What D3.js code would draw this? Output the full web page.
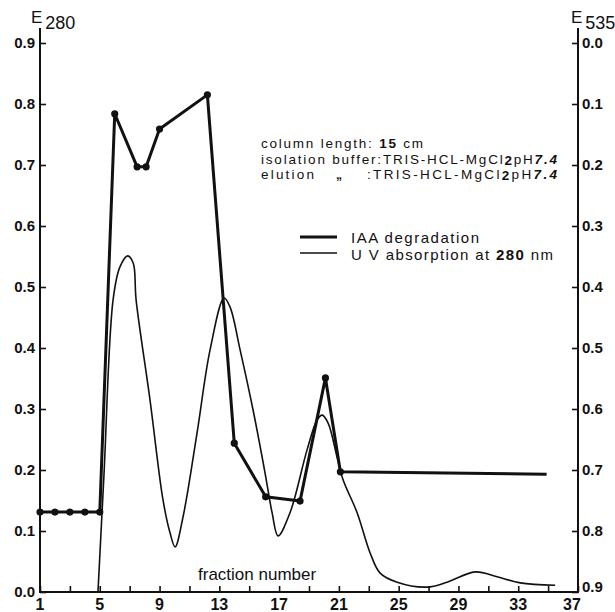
<!DOCTYPE html>
<html>
<head>
<meta charset="utf-8">
<script src="https://cdn.jsdelivr.net/npm/d3@7"></script>
<style>
  body { margin: 0; background: #fff; }
  svg { display: block; }
  text { font-family: "Liberation Sans", Arial, sans-serif; fill: #111; }
</style>
</head>
<body>
<div id="chart"></div>
<script>
// values
const fractionLabels = [1, 5, 9, 13, 17, 21, 25, 29, 33, 37];
const fractionTicks = d3.range(1, 38, 2);
const e280Ticks = [0, 0.1, 0.2, 0.3, 0.4, 0.5, 0.6, 0.7, 0.8, 0.9];
const e535Ticks = [0, 0.1, 0.2, 0.3, 0.4, 0.5, 0.6, 0.7, 0.8, 0.9];

// IAA degradation (E535, right axis)
const iaaFraction = [1, 2, 3, 4, 5, 6, 7.5, 8.1, 9, 12.2, 14, 16.1, 18.4, 20.1, 21.1, 34.9];
const iaaE535 = [0.769, 0.769, 0.769, 0.769, 0.769, 0.116, 0.203, 0.203, 0.141, 0.085, 0.656, 0.744, 0.751, 0.549, 0.703, 0.707];

// UV absorption at 280 nm (E280, left axis)
const uvFraction = [4.88, 5.28, 5.89, 6.35, 6.87, 7.24, 7.43, 8.36, 9.23, 9.7, 10.04, 10.57, 11.51, 12.38, 13.32, 13.72,
  14.39, 15.26, 16.06, 16.53, 16.93, 17.73, 18.87, 19.54, 19.88, 20.28, 20.88, 21.28, 22.22, 23.09, 23.76, 24.9,
  26.9, 28.24, 30.12, 31.59, 33.13, 35.47];
const uvE280 = [0, 0.192, 0.479, 0.533, 0.551, 0.539, 0.479, 0.315, 0.151, 0.097, 0.074, 0.123, 0.261, 0.397, 0.482, 0.467,
  0.397, 0.298, 0.195, 0.13, 0.092, 0.13, 0.233, 0.282, 0.29, 0.277, 0.221, 0.184, 0.13, 0.064, 0.031, 0.016,
  0.008, 0.016, 0.033, 0.025, 0.015, 0.011];

const width = 615, height = 612;
const svg = d3.select('#chart').append('svg')
  .attr('width', width)
  .attr('height', height);

const x = d3.scaleLinear().domain([1, 37]).range([40, 578]);
const yLeft = d3.scaleLinear().domain([0, 0.9]).range([592, 43]);
const yRight = d3.scaleLinear().domain([0, 0.9]).range([43, 592]);

const fmt = d3.format('.1f');

// axes, ticks point inwards
const xAxis = d3.axisBottom(x).tickValues(fractionTicks).tickSize(-6).tickFormat('');
const leftAxis = d3.axisLeft(yLeft).tickValues(e280Ticks).tickSize(-6).tickFormat('');
const rightAxis = d3.axisRight(yRight).tickValues(e535Ticks).tickSize(-6).tickFormat('');

function styleAxis(g) {
  g.select('.domain').remove();
  g.selectAll('.tick line').attr('stroke', '#111').attr('stroke-width', 1.6);
}

svg.append('g').attr('transform', 'translate(0,592)').call(xAxis).call(styleAxis);
svg.append('g').attr('transform', 'translate(40,0)').call(leftAxis).call(styleAxis);
svg.append('g').attr('transform', 'translate(578,0)').call(rightAxis).call(styleAxis);

// frame lines
svg.append('path')
  .attr('d', 'M40,28V592H578V28')
  .attr('fill', 'none')
  .attr('stroke', '#111')
  .attr('stroke-width', 2);

// tick labels
svg.append('g').selectAll('text')
  .data(fractionLabels)
  .join('text')
  .attr('x', d => x(d) - (d === 37 ? 6 : 0))
  .attr('y', 610)
  .attr('text-anchor', 'middle')
  .attr('font-size', 16)
  .attr('font-weight', 'bold')
  .text(d => d);

svg.append('g').selectAll('text')
  .data(e280Ticks)
  .join('text')
  .attr('x', 35)
  .attr('y', d => yLeft(d) + 5)
  .attr('text-anchor', 'end')
  .attr('font-size', 15)
  .attr('font-weight', 'bold')
  .text(d => fmt(d));

svg.append('g').selectAll('text')
  .data(e535Ticks)
  .join('text')
  .attr('x', 582)
  .attr('y', d => yRight(d) + (d === 0.9 ? 0 : 5))
  .attr('font-size', 15)
  .attr('font-weight', 'bold')
  .text(d => fmt(d));

// axis titles
function axisTitle(xPos, label) {
  const t = svg.append('text').attr('x', xPos).attr('y', 23).attr('font-size', 17);
  t.append('tspan').text('E');
  t.append('tspan').attr('dx', 3).attr('dy', 6).attr('font-size', 18).text(label);
}
axisTitle(31, '280');
axisTitle(571, '535');

// UV absorption curve
const uvLine = d3.line()
  .x((d, i) => x(uvFraction[i]))
  .y(d => yLeft(d))
  .curve(d3.curveCatmullRom.alpha(0.5));

svg.append('path')
  .datum(uvE280)
  .attr('d', uvLine)
  .attr('fill', 'none')
  .attr('stroke', '#111')
  .attr('stroke-width', 1.6);

// IAA degradation
const iaaLine = d3.line()
  .x((d, i) => x(iaaFraction[i]))
  .y(d => yRight(d));

svg.append('path')
  .datum(iaaE535)
  .attr('d', iaaLine)
  .attr('fill', 'none')
  .attr('stroke', '#111')
  .attr('stroke-width', 3)
  .attr('stroke-linejoin', 'round');

svg.append('g').selectAll('circle')
  .data(iaaE535.slice(0, -1))
  .join('circle')
  .attr('cx', (d, i) => x(iaaFraction[i]))
  .attr('cy', d => yRight(d))
  .attr('r', 3.6)
  .attr('fill', '#111');

// annotations - small font stretched to the original widths
const note = svg.append('g').attr('font-size', 13.5);
const l1 = note.append('text').attr('x', 261).attr('y', 148)
  .attr('textLength', 162).attr('lengthAdjust', 'spacing');
l1.append('tspan').text('column length: ');
l1.append('tspan').attr('font-weight', 'bold').text('15');
l1.append('tspan').text(' cm');

function bufferText(t) {
  t.append('tspan').text('TRIS-HCL-MgCl');
  t.append('tspan').attr('font-weight', 'bold').attr('dy', 1).text('2');
  t.append('tspan').attr('dy', -1).text('pH');
  t.append('tspan').attr('font-weight', 'bold').attr('font-style', 'italic').text('7.4');
}

const l2 = note.append('text').attr('x', 261).attr('y', 163.5)
  .attr('textLength', 296).attr('lengthAdjust', 'spacing');
l2.append('tspan').text('isolation buffer:');
bufferText(l2);

note.append('text').attr('x', 261).attr('y', 179)
  .attr('textLength', 53).attr('lengthAdjust', 'spacing').text('elution');
note.append('text').attr('x', 336).attr('y', 179).attr('font-size', 12)
  .attr('font-weight', 'bold').text('\u201e');
const l3 = note.append('text').attr('x', 367).attr('y', 179)
  .attr('textLength', 190).attr('lengthAdjust', 'spacing');
l3.append('tspan').text(':');
bufferText(l3);

// legend
const legend = svg.append('g').attr('font-size', 15);
legend.append('line').attr('x1', 300).attr('x2', 337).attr('y1', 237).attr('y2', 237)
  .attr('stroke', '#111').attr('stroke-width', 3);
legend.append('line').attr('x1', 300).attr('x2', 337).attr('y1', 253).attr('y2', 253)
  .attr('stroke', '#111').attr('stroke-width', 1.6);
legend.append('text').attr('x', 351).attr('y', 242.5)
  .attr('textLength', 128).attr('lengthAdjust', 'spacing').text('IAA degradation');
const lg2 = legend.append('text').attr('x', 351).attr('y', 260)
  .attr('textLength', 202).attr('lengthAdjust', 'spacing');
lg2.append('tspan').text('U V absorption at ');
lg2.append('tspan').attr('font-weight', 'bold').text('280');
lg2.append('tspan').text(' nm');

svg.append('text')
  .attr('x', 198)
  .attr('y', 580)
  .attr('font-size', 17)
  .text('fraction number');
</script>
</body>
</html>
